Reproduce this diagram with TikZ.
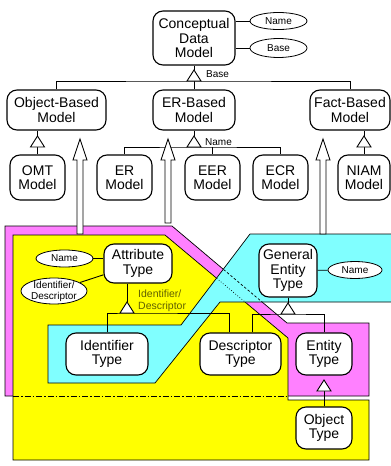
\documentclass[tikz,border=0pt]{standalone}
\usepackage{fontspec}
\setmainfont{Liberation Sans}
\usetikzlibrary{shapes.geometric}

\definecolor{pinkarea}{RGB}{255,128,255}
\definecolor{yellowarea}{RGB}{255,255,0}
\definecolor{cyanarea}{RGB}{128,255,255}
\definecolor{olivetext}{RGB}{96,96,0}

% hollow block arrow: tail coordinate, tip coordinate
\newcommand{\hollowarrow}[2]{%
  \draw[big] ([xshift=-3pt]#1) -- ([shift={(-3,21)}]#2) -- ([shift={(-7,21)}]#2) -- (#2)
    -- ([shift={(7,21)}]#2) -- ([shift={(3,21)}]#2) -- ([xshift=3pt]#1) -- cycle;}

\begin{document}
\begin{tikzpicture}[x=1pt,y=-1pt]
			\tikzstyle{cls} = [draw, line width=1.1pt, fill=white, rounded corners=10pt, align=center, inner sep=1pt, font=\fontsize{14}{14.5}\selectfont]
			\tikzstyle{prop} = [draw, ellipse, fill=white, inner sep=0pt, align=center, line width=0.8pt, font=\fontsize{10}{11}\selectfont]
			\tikzstyle{isa} = [draw, fill=white, line width=0.9pt]
			\tikzstyle{big} = [draw, fill=white, line width=0.8pt]
			\tikzstyle{conn} = [draw, line width=0.9pt]
			\tikzstyle{lbl} = [inner sep=0pt, font=\fontsize{10}{11}\selectfont]
			\tikzstyle{area} = [draw, line width=0.7pt]
			
			\useasboundingbox (0,0) rectangle (391,466);
			
			% coloured areas
			\filldraw[area, fill=pinkarea] (5,226) -- (172,226) -- (287,323) -- (369,323) -- (369,396) -- (5,396) -- cycle;
			\filldraw[area, fill=yellowarea] (13,235) -- (165,235) -- (288,338) -- (288,400) -- (369,400) -- (369,460) -- (13,460) -- cycle;
			\filldraw[area, fill=cyanarea] (48,325) -- (181,325) -- (250,234) -- (396,234) -- (396,302) -- (220,302) -- (155,383) -- (48,383) -- cycle;
			
			% hidden edges
			\begin{scope}
				\clip (48,325) -- (181,325) -- (250,234) -- (396,234) -- (396,302) -- (220,302) -- (155,383) -- (48,383) -- cycle;
				\draw[line width=0.7pt, dash pattern=on 2.5pt off 2pt] (172,226) -- (287,323);
				\draw[line width=0.7pt, dotted] (165,235) -- (288,338);
			\end{scope}
			\draw[line width=0.7pt, dash pattern=on 6pt off 2pt on 1.5pt off 2pt] (13,396) -- (288,396);
			
			% top part
			\node [cls, minimum width=82pt, minimum height=54pt] (cdm) at (194,38) {Conceptual\\Data\\Model};
			\node [prop, minimum width=57pt, minimum height=17pt] (nm1) at (278.5,21) {Name};
			\node [prop, minimum width=57pt, minimum height=19pt] (bs1) at (278.5,48) {Base};
			
			\node [cls, minimum width=99pt, minimum height=40pt] (obm) at (56.5,110) {Object-Based\\Model};
			\node [cls, minimum width=82pt, minimum height=40pt] (ebm) at (194,110) {ER-Based\\Model};
			\node [cls, minimum width=80pt, minimum height=40pt] (fbm) at (350,110) {Fact-Based\\Model};
			
			\node [cls, minimum width=55pt, minimum height=45pt] (omt) at (37.5,177.5) {OMT\\Model};
			\node [cls, minimum width=55pt, minimum height=45pt] (erm) at (124.5,177.5) {ER\\Model};
			\node [cls, minimum width=55pt, minimum height=45pt] (eer) at (212.5,177.5) {EER\\Model};
			\node [cls, minimum width=55pt, minimum height=45pt] (ecr) at (280.5,177.5) {ECR\\Model};
			\node [cls, minimum width=52pt, minimum height=45pt] (niam) at (364,177.5) {NIAM\\Model};
			
			% bottom part
			\node [cls, minimum width=68pt, minimum height=39pt] (att) at (138,263.5) {Attribute\\Type};
			\node [prop, minimum width=57pt, minimum height=17pt] (nm2) at (64.5,258.5) {Name};
			\node [prop, minimum width=66pt, minimum height=26pt, inner ysep=-3pt] (idd) at (54,291) {Identifier/\\Descriptor};
			\node [cls, minimum width=58pt, minimum height=53pt] (get) at (288,270.5) {General\\Entity\\Type};
			\node [prop, minimum width=54pt, minimum height=17pt] (nm3) at (355,270) {Name};
			
			\node [cls, minimum width=82pt, minimum height=42pt] (idt) at (107,354) {Identifier\\Type};
			\node [cls, minimum width=81pt, minimum height=42pt] (dst) at (240.5,354) {Descriptor\\Type};
			\node [cls, minimum width=56pt, minimum height=42pt] (ent) at (324,354) {Entity\\Type};
			\node [cls, minimum width=56pt, minimum height=42pt] (obj) at (324,428) {Object\\Type};
			
			% attributes
			\draw[conn] (nm1.west -| cdm.east) -- (nm1);
			\draw[conn] (bs1.west -| cdm.east) -- (bs1);
			\draw[conn] (nm2) -- (nm2.east -| att.west);
			\draw[conn] (idd) -- (att);
			\draw[conn] (get) -- (nm3);
			
			% generalisations
			\coordinate (t1) at (194,70);
			\coordinate (b1) at (194,81);
			\draw[conn] (cdm) -- (t1);
			\draw[conn] (obm.north) |- (b1) -| (fbm.north);
			\draw[conn] (b1) -- (ebm.north);
			\draw[isa] (t1) -- ++(-7,11) -- ++(14,0) -- cycle;
			\node [lbl, anchor=west] (lb1) at (206,74) {Base};
			
			\coordinate (t2) at (194,136);
			\coordinate (b2) at (194,147);
			\draw[conn] (ebm) -- (t2);
			\draw[conn] (erm.north) |- (b2) -| (ecr.north);
			\draw[conn] (eer.north) -- (eer.north |- b2);
			\draw[isa] (t2) -- ++(-7,11) -- ++(14,0) -- cycle;
			\node [lbl, anchor=west] (lb2) at (205,142) {Name};
			
			\draw[conn] (omt.north) -- (omt.north |- obm.south);
			\draw[isa] (omt.north |- t2) -- ++(-7,11) -- ++(14,0) -- cycle;
			\draw[conn] (niam.north) -- (niam.north |- fbm.south);
			\draw[isa] (niam.north |- t2) -- ++(-7,11) -- ++(14,0) -- cycle;
			
			\coordinate (t3) at (127,302);
			\coordinate (b3) at (127,313);
			\draw[conn] (att.south -| t3) -- (t3);
			\draw[conn] (idt.north) |- (b3) -| ([xshift=-11.5pt]dst.north);
			\draw[isa] (t3) -- ++(-7,11) -- ++(14,0) -- cycle;
			\node [lbl, anchor=north west, align=left, text=olivetext, font=\fontsize{10.5}{12}\selectfont] (lb3) at (138,290) {Identifier/\\Descriptor};
			
			\coordinate (t4) at (288,303);
			\coordinate (b4) at (288,314);
			\draw[conn] (get) -- (t4);
			\draw[conn] ([xshift=11.5pt]dst.north) |- (b4) -| (ent.north);
			\draw[isa] (t4) -- ++(-7,11) -- ++(14,0) -- cycle;
			
			\coordinate (t5) at (324,380);
			\draw[conn] (obj) -- (t5);
			\draw[isa] (t5) -- ++(-7,11) -- ++(14,0) -- cycle;
			
			% mappings from the areas
			\coordinate (ytail) at (80,234);
			\coordinate (ytip) at (80,139);
			\coordinate (ptail) at (168,223);
			\coordinate (ptip) at (168,139);
			\coordinate (ctail) at (323,234);
			\coordinate (ctip) at (323,139);
			\hollowarrow{ytail}{ytip}
			\hollowarrow{ptail}{ptip}
			\hollowarrow{ctail}{ctip}
			
\end{tikzpicture}
\end{document}
